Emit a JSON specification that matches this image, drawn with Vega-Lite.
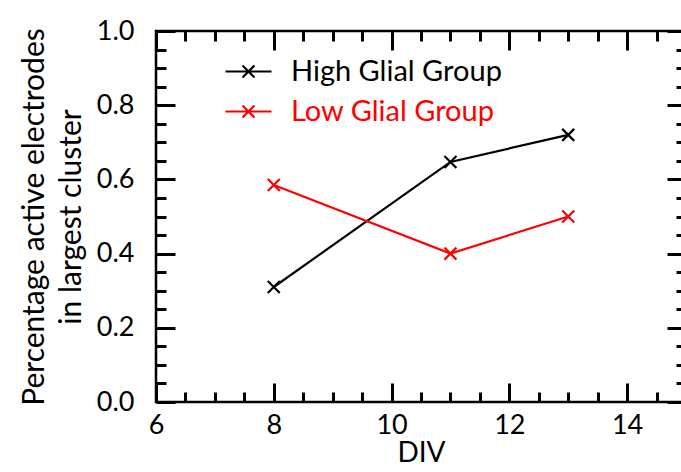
{
  "$schema": "https://vega.github.io/schema/vega-lite/v6.json",
  "width": 530,
  "height": 371,
  "autosize": {"type": "none"},
  "padding": {"left": 156, "top": 31, "right": 0, "bottom": 70},
  "config": {
    "font": "Lato",
    "view": {"stroke": "black", "strokeWidth": 2.5},
    "axis": {
      "domain": false,
      "grid": false,
      "labelFont": "Lato",
      "labelFontSize": 27,
      "labelColor": "black",
      "titleFont": "Lato",
      "titleFontSize": 30,
      "titleFontWeight": "normal",
      "titleColor": "black",
      "tickColor": "#000000",
      "tickOpacity": 1,
      "tickWidth": 3,
      "zindex": 2
    }
  },
  "data": {
    "values": [
      {"group": "High Glial Group", "div": 8, "value": 0.31},
      {"group": "High Glial Group", "div": 11, "value": 0.647},
      {"group": "High Glial Group", "div": 13, "value": 0.72},
      {"group": "Low Glial Group", "div": 8, "value": 0.585},
      {"group": "Low Glial Group", "div": 11, "value": 0.4},
      {"group": "Low Glial Group", "div": 13, "value": 0.5}
    ]
  },
  "resolve": {"axis": {"x": "independent", "y": "independent"}},
  "layer": [
    {
      "mark": {"type": "line", "strokeWidth": 2.2},
      "encoding": {
        "x": {
          "field": "div", "type": "quantitative",
          "scale": {"domain": [6, 15], "nice": false, "zero": false},
          "axis": {"orient": "bottom", "ticks": false, "values": [6, 8, 10, 12, 14], "labelPadding": 10, "labelFlush": false, "labelOverlap": false, "title": "DIV", "titleFontSize": 28, "titlePadding": 1}
        },
        "y": {
          "field": "value", "type": "quantitative",
          "scale": {"domain": [0, 1], "nice": false},
          "axis": {"orient": "left", "ticks": false, "values": [0, 0.2, 0.4, 0.6, 0.8, 1], "format": ".1f", "labelPadding": 22, "labelFlush": false, "labelOverlap": false, "title": ["Percentage active electrodes", "in largest cluster"], "titlePadding": 10, "titleLineHeight": 37}
        },
        "color": {
          "field": "group", "type": "nominal",
          "scale": {"domain": ["High Glial Group", "Low Glial Group"], "range": ["#000000", "#ff0000"]},
          "legend": {
            "orient": "none",
            "legendX": 68,
            "legendY": 16,
            "title": null,
            "padding": 0,
            "symbolType": "M-1,0H1M-0.26,-0.26L0.26,0.26M-0.26,0.26L0.26,-0.26",
            "symbolSize": 2116,
            "symbolStrokeWidth": 2.2,
            "symbolFillColor": "transparent",
            "labelFont": "Lato",
            "labelFontSize": 29,
            "labelLimit": 0,
            "labelOffset": 18,
            "rowPadding": -5,
            "encode": {"labels": {"update": {"fill": {"scale": "color", "field": "value"}}}}
          }
        }
      }
    },
    {
      "mark": {"type": "point", "shape": "M-1,-1L1,1M-1,1L1,-1", "size": 144, "filled": false, "strokeWidth": 2.2, "opacity": 1},
      "encoding": {
        "x": {
          "field": "div", "type": "quantitative",
          "axis": {"orient": "bottom", "labels": false, "title": null, "values": [6, 8, 10, 12, 14], "tickSize": 19, "offset": -19, "tickColor": "#000000", "tickWidth": 3, "tickOpacity": 1}
        },
        "y": {
          "field": "value", "type": "quantitative",
          "axis": {"orient": "left", "labels": false, "title": null, "values": [0, 0.2, 0.4, 0.6, 0.8, 1], "tickSize": 19, "offset": -19, "tickColor": "#000000", "tickWidth": 3, "tickOpacity": 1}
        },
        "color": {"field": "group", "type": "nominal"}
      }
    },
    {
      "mark": {"type": "point", "opacity": 0},
      "encoding": {
        "x": {
          "field": "div", "type": "quantitative",
          "axis": {"orient": "bottom", "labels": false, "title": null, "values": [6.5, 7, 7.5, 8.5, 9, 9.5, 10.5, 11, 11.5, 12.5, 13, 13.5, 14.5], "tickSize": 10, "offset": -10, "tickColor": "#000000", "tickWidth": 3, "tickOpacity": 1}
        },
        "y": {
          "field": "value", "type": "quantitative",
          "axis": {"orient": "left", "labels": false, "title": null, "values": [0.05, 0.1, 0.15, 0.25, 0.3, 0.35, 0.45, 0.5, 0.55, 0.65, 0.7, 0.75, 0.85, 0.9, 0.95], "tickSize": 10, "offset": -10, "tickColor": "#000000", "tickWidth": 3, "tickOpacity": 1}
        }
      }
    },
    {
      "mark": {"type": "point", "opacity": 0},
      "encoding": {
        "x": {
          "field": "div", "type": "quantitative",
          "axis": {"orient": "top", "labels": false, "title": null, "values": [6, 8, 10, 12, 14], "tickSize": 19, "offset": -19, "tickColor": "#000000", "tickWidth": 3, "tickOpacity": 1}
        },
        "y": {
          "field": "value", "type": "quantitative",
          "axis": {"orient": "right", "labels": false, "title": null, "values": [0, 0.2, 0.4, 0.6, 0.8, 1], "tickSize": 19, "offset": -19, "tickColor": "#000000", "tickWidth": 3, "tickOpacity": 1}
        }
      }
    },
    {
      "mark": {"type": "point", "opacity": 0},
      "encoding": {
        "x": {
          "field": "div", "type": "quantitative",
          "axis": {"orient": "top", "labels": false, "title": null, "values": [6.5, 7, 7.5, 8.5, 9, 9.5, 10.5, 11, 11.5, 12.5, 13, 13.5, 14.5], "tickSize": 10, "offset": -10, "tickColor": "#000000", "tickWidth": 3, "tickOpacity": 1}
        },
        "y": {
          "field": "value", "type": "quantitative",
          "axis": {"orient": "right", "labels": false, "title": null, "values": [0.05, 0.1, 0.15, 0.25, 0.3, 0.35, 0.45, 0.5, 0.55, 0.65, 0.7, 0.75, 0.85, 0.9, 0.95], "tickSize": 10, "offset": -10, "tickColor": "#000000", "tickWidth": 3, "tickOpacity": 1}
        }
      }
    }
  ]
}
